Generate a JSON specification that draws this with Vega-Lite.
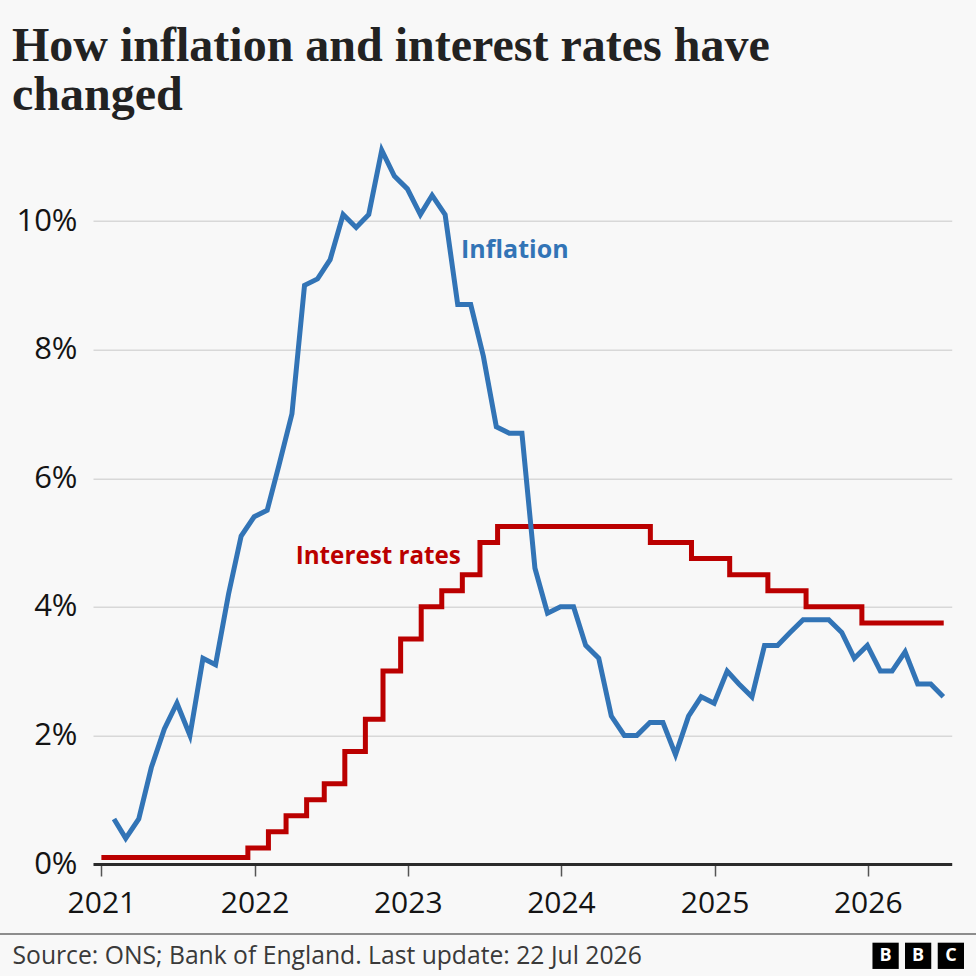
{
  "$schema": "https://vega.github.io/schema/vega-lite/v6.json",
  "autosize": "none",
  "width": 858.7,
  "height": 707.3,
  "padding": {"left": 93, "top": 156.7, "right": 24.3, "bottom": 112},
  "background": "#f8f8f8",
  "config": {
    "view": {"stroke": null},
    "font": "Open Sans"
  },
  "title": {
    "text": ["How inflation and interest rates have", "changed"],
    "font": "Liberation Serif",
    "fontSize": 48,
    "fontWeight": "bold",
    "color": "#222222",
    "anchor": "start",
    "frame": "group",
    "dx": -81,
    "lineHeight": 49,
    "offset": 20
  },
  "datasets": {
    "inflation": [
      {"date": "2021-01-31", "value": 0.7}, {"date": "2021-02-28", "value": 0.4}, {"date": "2021-03-31", "value": 0.7},
      {"date": "2021-04-30", "value": 1.5}, {"date": "2021-05-31", "value": 2.1}, {"date": "2021-06-30", "value": 2.5},
      {"date": "2021-07-31", "value": 2.0}, {"date": "2021-08-31", "value": 3.2}, {"date": "2021-09-30", "value": 3.1},
      {"date": "2021-10-31", "value": 4.2}, {"date": "2021-11-30", "value": 5.1}, {"date": "2021-12-31", "value": 5.4},
      {"date": "2022-01-31", "value": 5.5}, {"date": "2022-02-28", "value": 6.2}, {"date": "2022-03-31", "value": 7.0},
      {"date": "2022-04-30", "value": 9.0}, {"date": "2022-05-31", "value": 9.1}, {"date": "2022-06-30", "value": 9.4},
      {"date": "2022-07-31", "value": 10.1}, {"date": "2022-08-31", "value": 9.9}, {"date": "2022-09-30", "value": 10.1},
      {"date": "2022-10-31", "value": 11.1}, {"date": "2022-11-30", "value": 10.7}, {"date": "2022-12-31", "value": 10.5},
      {"date": "2023-01-31", "value": 10.1}, {"date": "2023-02-28", "value": 10.4}, {"date": "2023-03-31", "value": 10.1},
      {"date": "2023-04-30", "value": 8.7}, {"date": "2023-05-31", "value": 8.7}, {"date": "2023-06-30", "value": 7.9},
      {"date": "2023-07-31", "value": 6.8}, {"date": "2023-08-31", "value": 6.7}, {"date": "2023-09-30", "value": 6.7},
      {"date": "2023-10-31", "value": 4.6}, {"date": "2023-11-30", "value": 3.9}, {"date": "2023-12-31", "value": 4.0},
      {"date": "2024-01-31", "value": 4.0}, {"date": "2024-02-29", "value": 3.4}, {"date": "2024-03-31", "value": 3.2},
      {"date": "2024-04-30", "value": 2.3}, {"date": "2024-05-31", "value": 2.0}, {"date": "2024-06-30", "value": 2.0},
      {"date": "2024-07-31", "value": 2.2}, {"date": "2024-08-31", "value": 2.2}, {"date": "2024-09-30", "value": 1.7},
      {"date": "2024-10-31", "value": 2.3}, {"date": "2024-11-30", "value": 2.6}, {"date": "2024-12-31", "value": 2.5},
      {"date": "2025-01-31", "value": 3.0}, {"date": "2025-02-28", "value": 2.8}, {"date": "2025-03-31", "value": 2.6},
      {"date": "2025-04-30", "value": 3.4}, {"date": "2025-05-31", "value": 3.4}, {"date": "2025-06-30", "value": 3.6},
      {"date": "2025-07-31", "value": 3.8}, {"date": "2025-08-31", "value": 3.8}, {"date": "2025-09-30", "value": 3.8},
      {"date": "2025-10-31", "value": 3.6}, {"date": "2025-11-30", "value": 3.2}, {"date": "2025-12-31", "value": 3.4},
      {"date": "2026-01-31", "value": 3.0}, {"date": "2026-02-28", "value": 3.0}, {"date": "2026-03-31", "value": 3.3},
      {"date": "2026-04-30", "value": 2.8}, {"date": "2026-05-31", "value": 2.8}, {"date": "2026-06-30", "value": 2.6}
    ],
    "interest": [
      {"date": "2021-01-01", "value": 0.1}, {"date": "2021-12-16", "value": 0.25}, {"date": "2022-02-03", "value": 0.5},
      {"date": "2022-03-17", "value": 0.75}, {"date": "2022-05-05", "value": 1.0}, {"date": "2022-06-16", "value": 1.25},
      {"date": "2022-08-04", "value": 1.75}, {"date": "2022-09-22", "value": 2.25}, {"date": "2022-11-03", "value": 3.0},
      {"date": "2022-12-15", "value": 3.5}, {"date": "2023-02-02", "value": 4.0}, {"date": "2023-03-23", "value": 4.25},
      {"date": "2023-05-11", "value": 4.5}, {"date": "2023-06-22", "value": 5.0}, {"date": "2023-08-03", "value": 5.25},
      {"date": "2024-08-01", "value": 5.0}, {"date": "2024-11-07", "value": 4.75}, {"date": "2025-02-06", "value": 4.5},
      {"date": "2025-05-08", "value": 4.25}, {"date": "2025-08-07", "value": 4.0}, {"date": "2025-12-18", "value": 3.75},
      {"date": "2026-07-01", "value": 3.75}
    ],
    "one": [{}]
  },
  "layer": [
    {
      "data": {"name": "interest"},
      "mark": {"type": "line", "interpolate": "step-after", "color": "#bb0000", "strokeWidth": 5, "clip": false},
      "encoding": {
        "x": {
          "field": "date", "type": "temporal",
          "scale": {"type": "utc", "domain": [{"year": 2020, "month": 12, "date": 12, "utc": true}, {"year": 2026, "month": 7, "date": 20, "utc": true}], "nice": false},
          "axis": {
            "title": "Source: ONS; Bank of England. Last update: 22 Jul 2026",
            "titleAnchor": "start", "titleAlign": "left", "titleX": -81, "titleY": 99.3,
            "titleBaseline": "alphabetic", "titleFontSize": 24.7, "titleFontWeight": "normal",
            "titleColor": "#3a3a3a", "titleFont": "Open Sans",
            "tickCount": {"interval": "year", "step": 1},
            "labelExpr": "utcFormat(datum.value, '%Y')",
            "labelFontSize": 30, "labelColor": "#141414", "labelFont": "Open Sans", "labelPadding": 12,
            "domain": true, "domainColor": "#2b2b2b", "domainWidth": 3,
            "ticks": true, "tickSize": 12, "tickColor": "#555555", "tickWidth": 1.5,
            "grid": false
          }
        },
        "y": {
          "field": "value", "type": "quantitative",
          "scale": {"domain": [0, 11], "nice": false, "zero": true},
          "axis": {
            "title": null,
            "values": [0, 2, 4, 6, 8, 10],
            "labelExpr": "datum.value + '%'",
            "labelFontSize": 31, "labelColor": "#141414", "labelFont": "Open Sans", "labelPadding": 16,
            "domain": false, "ticks": false,
            "grid": true, "gridColor": "#d8d8d8", "gridWidth": 1.4
          }
        }
      }
    },
    {
      "data": {"name": "inflation"},
      "mark": {"type": "line", "color": "#3274b6", "strokeWidth": 5, "clip": false},
      "encoding": {
        "x": {"field": "date", "type": "temporal"},
        "y": {"field": "value", "type": "quantitative"}
      }
    },
    {
      "data": {"name": "one"},
      "mark": {"type": "text", "text": "Inflation", "color": "#3274b6", "font": "Open Sans", "fontWeight": "bold", "fontSize": 25, "align": "left", "baseline": "alphabetic", "clip": false},
      "encoding": {
        "x": {"datum": {"year": 2023, "month": 5, "date": 8, "utc": true}, "type": "temporal"},
        "y": {"datum": 9.425, "type": "quantitative"}
      }
    },
    {
      "data": {"name": "one"},
      "mark": {"type": "text", "text": "Interest rates", "color": "#bb0000", "font": "Open Sans", "fontWeight": "bold", "fontSize": 24.2, "align": "left", "baseline": "alphabetic", "clip": false},
      "encoding": {
        "x": {"datum": {"year": 2022, "month": 4, "date": 9, "utc": true}, "type": "temporal"},
        "y": {"datum": 4.661, "type": "quantitative"}
      }
    },
    {
      "data": {"name": "one"},
      "mark": {"type": "rule", "color": "#6a6a6a", "strokeWidth": 1.5, "clip": false},
      "encoding": {
        "x": {"datum": {"year": 2020, "month": 5, "date": 1, "utc": true}, "type": "temporal"},
        "x2": {"datum": {"year": 2026, "month": 10, "date": 1, "utc": true}},
        "y": {"datum": -1.089, "type": "quantitative"}
      }
    },
    {
      "data": {"name": "one"},
      "mark": {"type": "square", "filled": true, "color": "#000000", "opacity": 1, "size": 690, "clip": false},
      "encoding": {
        "x": {"datum": {"year": 2026, "month": 2, "date": 12, "hours": 12, "utc": true}, "type": "temporal"},
        "y": {"datum": -1.428, "type": "quantitative"}
      }
    },
    {
      "data": {"name": "one"},
      "mark": {"type": "square", "filled": true, "color": "#000000", "opacity": 1, "size": 690, "clip": false},
      "encoding": {
        "x": {"datum": {"year": 2026, "month": 5, "date": 1, "utc": true}, "type": "temporal"},
        "y": {"datum": -1.428, "type": "quantitative"}
      }
    },
    {
      "data": {"name": "one"},
      "mark": {"type": "square", "filled": true, "color": "#000000", "opacity": 1, "size": 690, "clip": false},
      "encoding": {
        "x": {"datum": {"year": 2026, "month": 7, "date": 18, "utc": true}, "type": "temporal"},
        "y": {"datum": -1.428, "type": "quantitative"}
      }
    },
    {
      "data": {"name": "one"},
      "mark": {"type": "text", "text": "B", "color": "#ffffff", "font": "Open Sans", "fontWeight": "bold", "fontSize": 18, "align": "center", "baseline": "middle", "clip": false},
      "encoding": {
        "x": {"datum": {"year": 2026, "month": 2, "date": 12, "hours": 12, "utc": true}, "type": "temporal"},
        "y": {"datum": -1.428, "type": "quantitative"}
      }
    },
    {
      "data": {"name": "one"},
      "mark": {"type": "text", "text": "B", "color": "#ffffff", "font": "Open Sans", "fontWeight": "bold", "fontSize": 18, "align": "center", "baseline": "middle", "clip": false},
      "encoding": {
        "x": {"datum": {"year": 2026, "month": 5, "date": 1, "utc": true}, "type": "temporal"},
        "y": {"datum": -1.428, "type": "quantitative"}
      }
    },
    {
      "data": {"name": "one"},
      "mark": {"type": "text", "text": "C", "color": "#ffffff", "font": "Open Sans", "fontWeight": "bold", "fontSize": 18, "align": "center", "baseline": "middle", "clip": false},
      "encoding": {
        "x": {"datum": {"year": 2026, "month": 7, "date": 18, "utc": true}, "type": "temporal"},
        "y": {"datum": -1.428, "type": "quantitative"}
      }
    }
  ]
}
